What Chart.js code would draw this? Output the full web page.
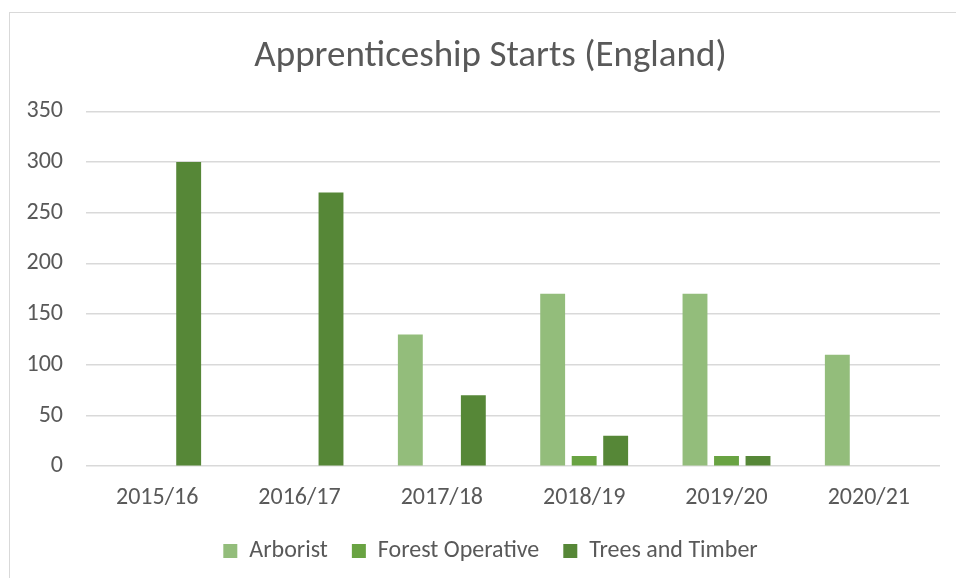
<!DOCTYPE html>
<html>
<head>
<title>Apprenticeship Starts (England)</title>
<script src="https://cdn.jsdelivr.net/npm/chart.js@4.4.0/dist/chart.umd.min.js"></script>
<style>
    body { margin: 0; background: #fff; overflow: hidden; }
    .frame { position: absolute; left: 9px; top: 12px; width: 960px; height: 580px;
             border-left: 1px solid #d9d9d9; border-top: 1px solid #d9d9d9; }
    .wrap { position: absolute; left: 0; top: 0; width: 956px; height: 578px; }
</style>
</head>
<body>
<div class="frame"></div>
<div class="wrap"><canvas id="myChart" width="956" height="578"></canvas></div>
<script>
    var years = ["2015/16", "2016/17", "2017/18", "2018/19", "2019/20", "2020/21"];
    var arborist = [0, 0, 130, 170, 170, 110];
    var forestOperative = [0, 0, 0, 10, 10, 0];
    var treesAndTimber = [300, 270, 70, 30, 10, 0];
    var yTicks = [0, 50, 100, 150, 200, 250, 300, 350];

    var font = "Carlito, 'Open Sans', sans-serif";
    var grey = "#595959";

    var dataSource = {
        labels: years,
        datasets: [
            { label: "Arborist", data: arborist, backgroundColor: "#93bd7b" },
            { label: "Forest Operative", data: forestOperative, backgroundColor: "#69a342" },
            { label: "Trees and Timber", data: treesAndTimber, backgroundColor: "#568737" }
        ]
    };

    // y labels hang into the left padding, so widen the axis clip box after layout
    var unclipY = {
        id: 'unclipY',
        afterLayout: function(chart){ chart.scales.y.left = 0; }
    };

    function createChart(){
        var ctx = document.getElementById("myChart").getContext("2d");
        var myBarChart = new Chart(ctx, {
            type: 'bar',
            data: dataSource,
            plugins: [unclipY],
            options: {
                responsive: false,
                animation: false,
                // extra left padding so title and legend sit centred like the original
                layout: { padding: { left: 41, right: 16, top: 35, bottom: 5 } },
                datasets: { bar: { categoryPercentage: 0.664, barPercentage: 0.79 } },
                plugins: {
                    title: {
                        display: true,
                        text: 'Apprenticeship Starts (England)',
                        color: grey,
                        font: { family: font, size: 37, weight: 'normal' },
                        padding: { top: 0, bottom: 32 }
                    },
                    legend: {
                        position: 'bottom',
                        labels: {
                            color: grey,
                            font: { family: font, size: 24 },
                            boxWidth: 14,
                            boxHeight: 14,
                            padding: 24
                        }
                    },
                    tooltip: { enabled: false }
                },
                scales: {
                    x: {
                        grid: { display: false },
                        border: { display: false },
                        afterFit: function(axis){ axis.height = axis.height - 6; },
                        ticks: { color: grey, font: { family: font, size: 24 }, padding: 9 }
                    },
                    y: {
                        min: 0,
                        max: 350,
                        afterBuildTicks: function(axis){ axis.ticks = yTicks.map(function(v){ return { value: v }; }); },
                        afterFit: function(axis){ axis.width = 45; },
                        grid: { color: "#d9d9d9", lineWidth: 1.5, drawTicks: false },
                        border: { display: false },
                        ticks: { color: grey, font: { family: font, size: 24 }, padding: 23 }
                    }
                }
            }
        });
    }
    createChart();
</script>
</body>
</html>
